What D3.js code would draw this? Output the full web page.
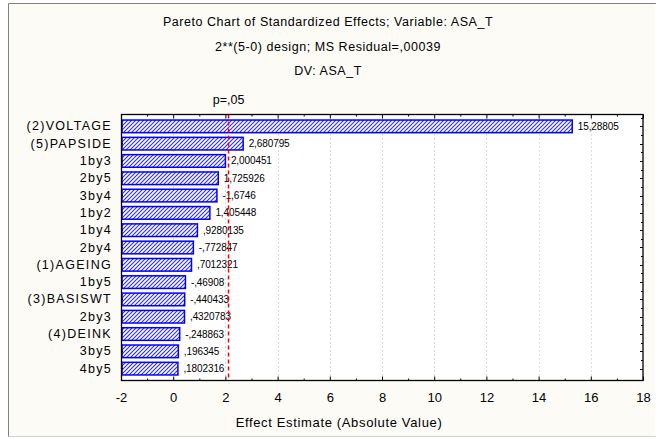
<!DOCTYPE html>
<html>
<head>
<meta charset="utf-8">
<script src="https://cdn.jsdelivr.net/npm/d3@7"></script>
<style>
  html, body { margin: 0; padding: 0; background: #ffffff; }
  svg { display: block; font-family: "Liberation Sans", Arial, sans-serif; }
</style>
</head>
<body>
<svg id="chart" width="656" height="439"></svg>
<script>
// ---- data ----
const categories = ["(2)VOLTAGE", "(5)PAPSIDE", "1by3", "2by5", "3by4", "1by2", "1by4", "2by4",
  "(1)AGEING", "1by5", "(3)BASISWT", "2by3", "(4)DEINK", "3by5", "4by5"];
const effects = [15.28805, 2.680795, 2.000451, 1.725926, -1.6746, 1.405448, 0.9280135, -0.772847,
  0.7012321, -0.46908, -0.440433, 0.4320783, -0.248863, 0.196345, 0.1802316];
const effectLabels = ["15,28805", "2,680795", "2,000451", "1,725926", "-1,6746", "1,405448", ",9280135", "-,772847",
  ",7012321", "-,46908", "-,440433", ",4320783", "-,248863", ",196345", ",1802316"];
const xTicks = [-2, 0, 2, 4, 6, 8, 10, 12, 14, 16, 18];
const xDomain = [-2, 18];
const pCritical = 2.12;
const titleLines = ["Pareto Chart of Standardized Effects; Variable: ASA_T",
  "2**(5-0) design; MS Residual=,00039", "DV: ASA_T"];
const pLabel = "p=,05";
const xTitle = "Effect Estimate (Absolute Value)";

// ---- layout ----
const svg = d3.select("#chart");
const L = 121, R = 643, T = 114.5, B = 380.5;

// outer frame
svg.append("rect").attr("x", 8).attr("y", 3).attr("width", 647).attr("height", 434).attr("fill", "#fdfbf6");
svg.append("line").attr("x1", 8.5).attr("x2", 656).attr("y1", 3.5).attr("y2", 3.5).attr("stroke", "#808080");
svg.append("line").attr("x1", 8.5).attr("x2", 8.5).attr("y1", 3.5).attr("y2", 437).attr("stroke", "#808080");
svg.append("line").attr("x1", 8.5).attr("x2", 656).attr("y1", 436.5).attr("y2", 436.5).attr("stroke", "#d0d0d0");

// hatch pattern
const defs = svg.append("defs");
const pat = defs.append("pattern").attr("id", "hatch").attr("patternUnits", "userSpaceOnUse")
  .attr("width", 4).attr("height", 4);
pat.append("rect").attr("width", 4).attr("height", 4).attr("fill", "#ffffff");
pat.append("path").attr("d", "M-1,1 l2,-2 M0,4 l4,-4 M3,5 l2,-2")
  .attr("stroke", "#2a2aff").attr("stroke-width", 1.1);

const x = d3.scaleLinear().domain(xDomain).range([L, R]);
const y = d3.scaleBand().domain(categories).range([T, B]).paddingInner(0.27).paddingOuter(0.32);

// plot background
svg.append("rect").attr("x", L).attr("y", T).attr("width", R - L).attr("height", B - T).attr("fill", "#ffffff");

// gridlines
svg.append("g").selectAll("line").data(xTicks.slice(1, -1)).join("line")
  .attr("x1", d => Math.round(x(d)) + 0.5).attr("x2", d => Math.round(x(d)) + 0.5)
  .attr("y1", T).attr("y2", B)
  .attr("stroke", "#b8b8b8").attr("stroke-width", 1).attr("stroke-dasharray", "1,3");

// bars
svg.append("g").selectAll("rect").data(categories).join("rect")
  .attr("x", x(xDomain[0]) + 1)
  .attr("y", (d, i) => y(d))
  .attr("width", (d, i) => x(Math.abs(effects[i])) - x(xDomain[0]) - 1)
  .attr("height", y.bandwidth())
  .attr("fill", "url(#hatch)")
  .attr("stroke", "#0000ff").attr("stroke-width", 1.5);

// value labels
svg.append("g").selectAll("text").data(categories).join("text")
  .attr("x", (d, i) => x(Math.abs(effects[i])) + 5.5)
  .attr("y", d => y(d) + y.bandwidth() / 2)
  .attr("dy", "0.35em")
  .attr("font-size", 10).attr("letter-spacing", "-0.1px").attr("fill", "#000")
  .text((d, i) => effectLabels[i]);

// critical line
svg.append("line").attr("x1", x(pCritical)).attr("x2", x(pCritical)).attr("y1", T).attr("y2", B)
  .attr("stroke", "#ff0000").attr("stroke-width", 1.5).attr("stroke-dasharray", "4,3");
svg.append("text").attr("x", x(pCritical)).attr("y", 104).attr("text-anchor", "middle")
  .attr("font-size", 12.5).attr("fill", "#000").text(pLabel);

// x axes (bottom & top) with inward ticks
const minorTicks = d3.range(xDomain[0], xDomain[1] + 1, 1).filter(v => v % 2 !== 0);
const bottomAx = svg.append("g").attr("transform", `translate(0,${B})`)
  .call(d3.axisBottom(x).tickValues(xTicks).tickSize(-4).tickPadding(12).tickFormat(d => String(d)));
bottomAx.selectAll("path.domain").remove();
bottomAx.selectAll("text").attr("font-size", 13).attr("font-family", "Liberation Sans, Arial, sans-serif").attr("fill", "#000");
bottomAx.selectAll("line").attr("stroke", "#000");
svg.append("g").attr("transform", `translate(0,${B})`)
  .call(d3.axisBottom(x).tickValues(minorTicks).tickSize(-2).tickFormat(""))
  .call(g => g.select(".domain").remove());
const topAx = svg.append("g").attr("transform", `translate(0,${T})`)
  .call(d3.axisTop(x).tickValues(xTicks).tickSize(-4).tickFormat(""));
topAx.select(".domain").remove();
svg.append("g").attr("transform", `translate(0,${T})`)
  .call(d3.axisTop(x).tickValues(minorTicks).tickSize(-2).tickFormat(""))
  .call(g => g.select(".domain").remove());

// right axis ticks at band centres and boundaries
const rightG = svg.append("g");
rightG.selectAll("line.c").data(categories).join("line")
  .attr("x1", R).attr("x2", R - 3)
  .attr("y1", d => Math.round(y(d) + y.bandwidth() / 2) + 0.5)
  .attr("y2", d => Math.round(y(d) + y.bandwidth() / 2) + 0.5)
  .attr("stroke", "#000");
rightG.selectAll("line.b").data(categories).join("line")
  .attr("x1", R).attr("x2", R - 2)
  .attr("y1", d => Math.round(y(d) - y.step() * y.paddingInner() / 2) + 0.5)
  .attr("y2", d => Math.round(y(d) - y.step() * y.paddingInner() / 2) + 0.5)
  .attr("stroke", "#000");

// y labels
const leftAx = svg.append("g").attr("transform", `translate(${L},0)`)
  .call(d3.axisLeft(y).tickSize(-2).tickPadding(9));
leftAx.select(".domain").remove();
leftAx.selectAll("line").attr("stroke", "#000");
leftAx.selectAll("text").attr("font-size", 12.5).attr("letter-spacing", "1.3px")
  .attr("font-family", "Liberation Sans, Arial, sans-serif").attr("fill", "#000");

// plot frame
svg.append("rect").attr("x", L + 0.5).attr("y", T).attr("width", R - L - 0.5).attr("height", B - T)
  .attr("fill", "none").attr("stroke", "#000").attr("stroke-width", 1.3);

// titles
svg.append("g").selectAll("text").data(titleLines).join("text")
  .attr("x", 328).attr("y", (d, i) => 26 + i * 24.5)
  .attr("text-anchor", "middle").attr("font-size", 12.5).attr("letter-spacing", "0.55px")
  .attr("fill", "#000").text(d => d);

svg.append("text").attr("x", 339).attr("y", 427).attr("text-anchor", "middle")
  .attr("font-size", 13).attr("letter-spacing", "0.65px").attr("fill", "#000").text(xTitle);
</script>
</body>
</html>
